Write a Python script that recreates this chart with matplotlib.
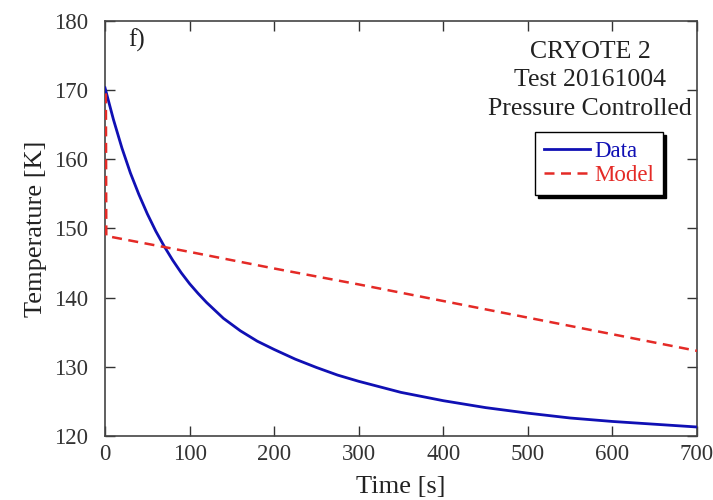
import matplotlib
matplotlib.use("Agg")
import matplotlib.pyplot as plt

plt.rcParams['font.family'] = ['Liberation Serif', 'DejaVu Serif']

# Measured data (time [s], temperature [K])
data_t = [0, 10, 20, 30, 40, 50, 60, 70, 80, 90, 100, 110, 120, 140, 160, 180,
          200, 225, 250, 275, 300, 350, 400, 450, 500, 550, 600, 650, 700]
data_T = [170.3, 165.7, 161.6, 158.0, 154.9, 152.1, 149.6, 147.4, 145.4, 143.6,
          142.0, 140.6, 139.3, 137.0, 135.2, 133.7, 132.5, 131.1, 129.9, 128.8,
          127.9, 126.3, 125.1, 124.1, 123.3, 122.6, 122.1, 121.7, 121.3]

# Model prediction
model_t = [1, 1.5, 100, 200, 300, 400, 500, 600, 700]
model_T = [169.5, 148.9, 146.6, 144.2, 141.9, 139.5, 137.1, 134.7, 132.3]

x_ticks = [0, 100, 200, 300, 400, 500, 600, 700]
y_ticks = [120, 130, 140, 150, 160, 170, 180]

fig = plt.figure(figsize=(7.13, 5.0), dpi=100)
ax = fig.add_axes([0.1473, 0.128, 0.8303, 0.8306])

blue = '#1010B4'
red = '#E42A26'
ax.plot(data_t, data_T, color=blue, lw=2.0, label='Data', zorder=3)
ax.plot(model_t, model_T, color=red, lw=1.8, dashes=(4.0, 2.6), label='Model', zorder=3)

ax.set_xlim(0, 700)
ax.set_ylim(120, 180)
ax.set_xticks(x_ticks)
ax.set_yticks(y_ticks)
ax.tick_params(direction='in', length=7, width=1, top=True, right=True,
               labelsize=16.5, colors='#333333')
ax.tick_params(axis='y', pad=12)
ax.tick_params(axis='x', pad=6)
for s in ax.spines.values():
    s.set_color('#444444')
    s.set_linewidth(1.2)

ax.set_xlabel('Time [s]', fontsize=19, color='#222222', labelpad=8)
ax.set_ylabel('Temperature [K]', fontsize=19, color='#222222', labelpad=5)

ax.text(0.054, 0.953, 'f)', transform=ax.transAxes, fontsize=18,
        ha='center', va='center', color='#222222')
ax.text(0.819, 0.925, 'CRYOTE 2', transform=ax.transAxes, fontsize=18.5,
        ha='center', va='center', color='#222222')
ax.text(0.819, 0.858, 'Test 20161004', transform=ax.transAxes, fontsize=18.5,
        ha='center', va='center', color='#222222')
ax.text(0.819, 0.788, 'Pressure Controlled', transform=ax.transAxes, fontsize=18.5,
        ha='center', va='center', color='#222222')

leg = ax.legend(loc='upper left', bbox_to_anchor=(0.726, 0.732), fontsize=16.5,
                frameon=True, fancybox=False, shadow={'color': 'black', 'alpha': 1.0},
                edgecolor='black', framealpha=1.0, handlelength=2.0,
                handletextpad=0.2, borderpad=0.4, labelspacing=0.12,
                borderaxespad=0)
leg.get_frame().set_linewidth(1.0)
for txt, c in zip(leg.get_texts(), [blue, red]):
    txt.set_color(c)

fig.savefig('out.png', dpi=100)
